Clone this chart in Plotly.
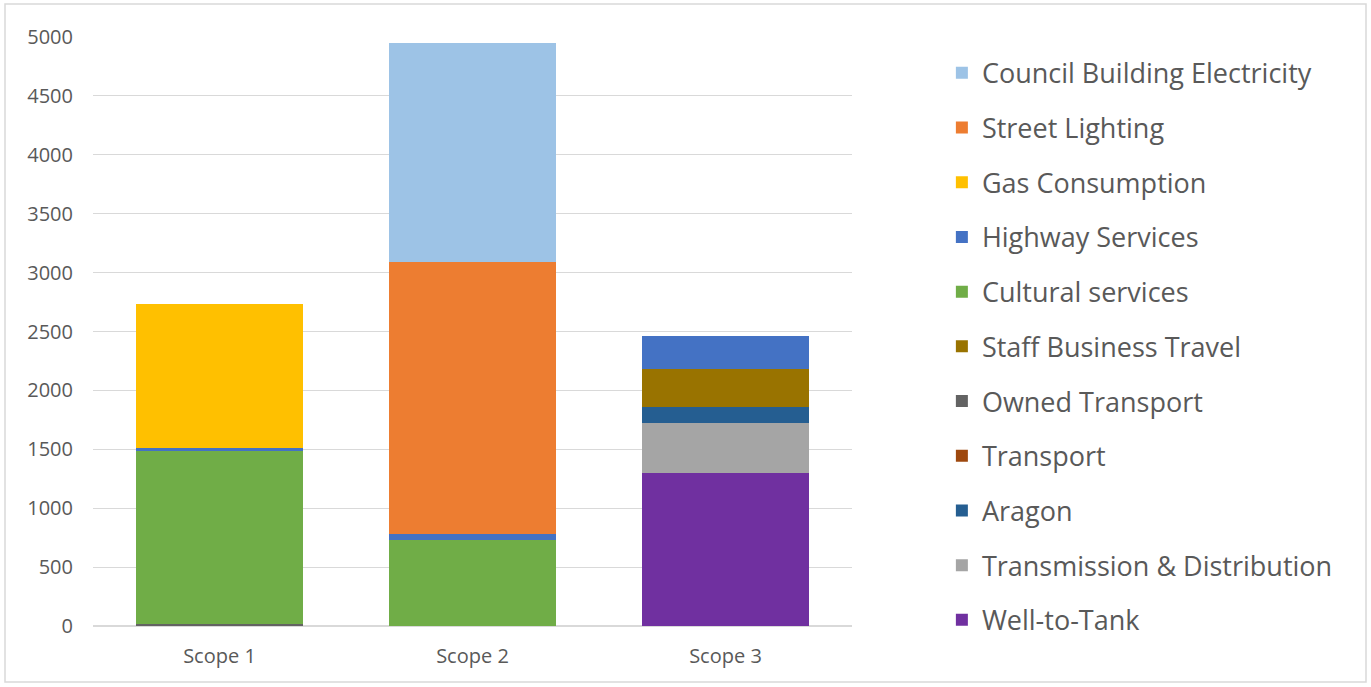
import plotly.graph_objects as go

categories = ["Scope 1", "Scope 2", "Scope 3"]

# series listed bottom-to-top of stack
well_to_tank = [0, 0, 1296]
transmission_distribution = [0, 0, 425]
aragon = [0, 0, 138]
transport = [0, 0, 0]
owned_transport = [15, 0, 0]
staff_business_travel = [0, 0, 326]
cultural_services = [1468, 730, 0]
highway_services = [28, 54, 275]
gas_consumption = [1223, 0, 0]
street_lighting = [0, 2306, 0]
council_building_electricity = [0, 1860, 0]

series = [
    ("Well-to-Tank", well_to_tank, "#7030A0"),
    ("Transmission & Distribution", transmission_distribution, "#A5A5A5"),
    ("Aragon", aragon, "#255E91"),
    ("Transport", transport, "#9E480E"),
    ("Owned Transport", owned_transport, "#636363"),
    ("Staff Business Travel", staff_business_travel, "#997300"),
    ("Cultural services", cultural_services, "#70AD47"),
    ("Highway Services", highway_services, "#4472C4"),
    ("Gas Consumption", gas_consumption, "#FFC000"),
    ("Street Lighting", street_lighting, "#ED7D31"),
    ("Council Building Electricity", council_building_electricity, "#9DC3E6"),
]

fig = go.Figure()
n = len(series)
for i, (name, vals, color) in enumerate(series):
    fig.add_trace(go.Bar(
        x=categories, y=vals, name=name, legendgroup=name,
        legendrank=n - i,
        marker=dict(color=color, line=dict(width=0)),
    ))

fig.update_layout(
    barmode="stack",
    bargap=0.34,
    width=1371, height=687,
    margin=dict(l=93, r=519, t=37, b=61),
    paper_bgcolor="white", plot_bgcolor="white",
    font=dict(family="Open Sans, sans-serif", color="#595959"),
    legend=dict(
        traceorder="grouped",
        tracegroupgap=16.6,
        font=dict(size=27, color="#595959"),
        xref="container", yref="container",
        x=0.687, y=0.929, xanchor="left", yanchor="top",
        itemwidth=30, maxheight=1.0,
    ),
    showlegend=True,
)
fig.update_yaxes(
    range=[0, 5000], dtick=500, showgrid=True, gridcolor="#D9D9D9", gridwidth=1,
    zeroline=True, zerolinecolor="#D9D9D9", showline=False,
    tickfont=dict(size=20, color="#595959"), ticklabelstandoff=19,
)
fig.update_xaxes(
    showline=False, tickfont=dict(size=20, color="#595959"), ticklabelstandoff=16,
)
fig.add_shape(type="rect", xref="paper", yref="paper",
              x0=-88/759, x1=(1366-93)/759, y0=-56/589, y1=(589+33)/589,
              line=dict(color="#D9D9D9", width=1.5), fillcolor="rgba(0,0,0,0)", layer="below")

fig.write_html("out.html")
